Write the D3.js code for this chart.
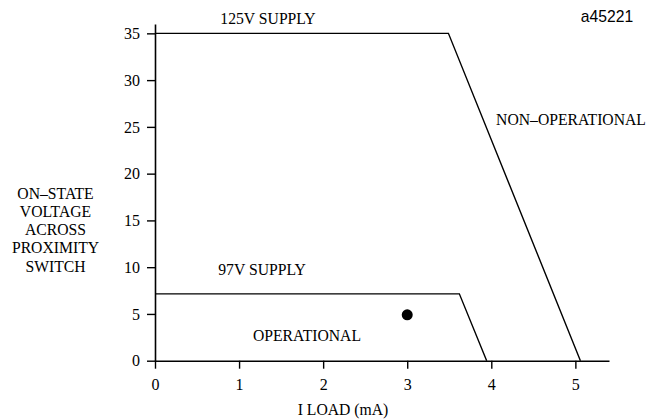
<!DOCTYPE html>
<html>
<head>
<meta charset="utf-8">
<script src="https://cdn.jsdelivr.net/npm/d3@7"></script>
<style>
  html, body { margin: 0; padding: 0; background: #fff; }
  svg { display: block; }
</style>
</head>
<body>
<svg id="chart" width="662" height="420"></svg>
<script>
// ---- data ----
const xTicks = [0, 1, 2, 3, 4, 5];
const yTicks = [0, 5, 10, 15, 20, 25, 30, 35];
const supply125Load = [0, 3.49, 5.06];
const supply125Volt = [35, 35, 0];
const supply97Load = [0, 3.62, 3.945];
const supply97Volt = [7.15, 7.15, 0];
const pointLoad = [3];
const pointVolt = [4.9];
const yLabelLines = ["ON\u2013STATE", "VOLTAGE", "ACROSS", "PROXIMITY", "SWITCH"];

// ---- drawing ----
const svg = d3.select("#chart");
const x = d3.scaleLinear().domain([0, 5.4]).range([155, 609]);
const y = d3.scaleLinear().domain([0, 36]).range([360.7, 24]);
const FS = 15.7;
const SERIF = "'Liberation Serif', 'Times New Roman', serif";

const xAxis = svg.append("g")
  .attr("transform", `translate(0,${y(0)})`)
  .call(d3.axisBottom(x).tickValues(xTicks).tickSize(8).tickSizeOuter(0).tickPadding(10).tickFormat(d3.format("d")));
const yAxis = svg.append("g")
  .attr("transform", `translate(${x(0)},0)`)
  .call(d3.axisLeft(y).tickValues(yTicks).tickSize(8).tickSizeOuter(0).tickPadding(7).tickFormat(d3.format("d")));
[xAxis, yAxis].forEach(g => {
  g.attr("font-family", null).attr("font-size", null);
  g.selectAll("path.domain").attr("stroke", "#000").attr("stroke-width", 1.6);
  g.selectAll(".tick line").attr("stroke", "#000").attr("stroke-width", 1.4);
  g.selectAll(".tick text").style("font-family", SERIF).style("font-size", "16px").attr("fill", "#000");
});

const line = d3.line().x(d => x(d[0])).y(d => y(d[1]));
const s125 = supply125Load.map((v, i) => [v, supply125Volt[i]]);
const s97 = supply97Load.map((v, i) => [v, supply97Volt[i]]);
[s125, s97].forEach(pts => {
  svg.append("path").datum(pts).attr("d", line)
    .attr("fill", "none").attr("stroke", "#000").attr("stroke-width", 1.4);
});

svg.selectAll("circle.pt").data(pointLoad.map((v, i) => [v, pointVolt[i]]))
  .enter().append("circle").attr("class", "pt")
  .attr("cx", d => x(d[0])).attr("cy", d => y(d[1])).attr("r", 5.5).attr("fill", "#000");

function label(txt, px, py, anchor, family) {
  svg.append("text").attr("x", px).attr("y", py)
    .attr("text-anchor", anchor || "middle")
    .style("font-size", FS + "px")
    .style("font-family", family || SERIF)
    .attr("fill", "#000")
    .text(txt);
}
label("125V SUPPLY", 268, 24);
label("a45221", 607, 22, "middle", "'Liberation Sans', Arial, sans-serif");
label("NON\u2013OPERATIONAL", 571, 125);
label("97V SUPPLY", 262, 275);
label("OPERATIONAL", 307, 341);
label("I LOAD (mA)", 343, 415);
yLabelLines.forEach((t, i) => label(t, 55.5, 198.5 + i * 18.3));
</script>
</body>
</html>
